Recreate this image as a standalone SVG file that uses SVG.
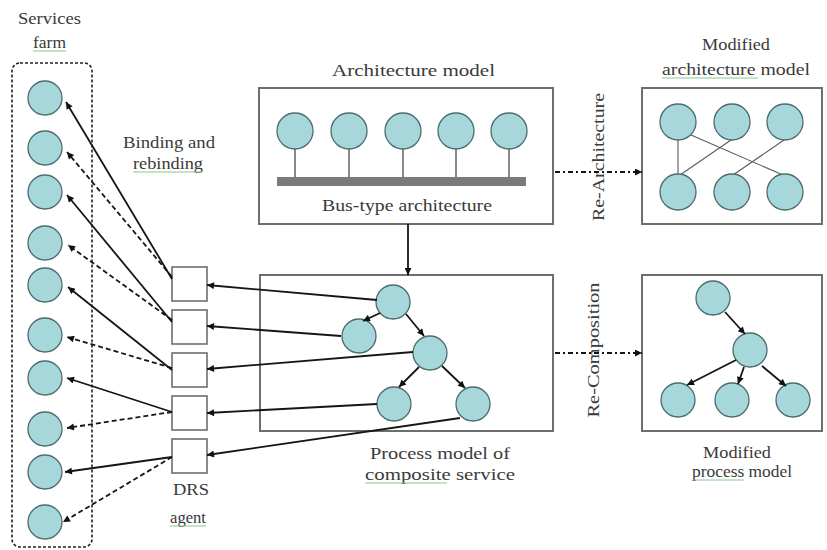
<svg xmlns="http://www.w3.org/2000/svg" width="827" height="550" viewBox="0 0 827 550">
  <style>
    .bg { fill: #ffffff; }
    .n { fill: #a6d7db; stroke: #4d6b6e; stroke-width: 1.3; }
    .box { fill: #ffffff; stroke: #6e6e6e; stroke-width: 2; }
    .agent { fill: #ffffff; stroke: #6e6e6e; stroke-width: 1.6; }
    .farm { fill: none; stroke: #222; stroke-width: 1.6; stroke-dasharray: 3 2; }
    .lbl { font-family: "Liberation Serif", "Times New Roman", serif; font-size: 17px; fill: #3a3a3a; }
    .solid { fill: none; stroke: #151515; stroke-width: 1.8; marker-end: url(#ah); }
    .dash { fill: none; stroke: #151515; stroke-width: 1.8; stroke-dasharray: 5 3; marker-end: url(#ah); }
    .dd { fill: none; stroke: #151515; stroke-width: 2; stroke-dasharray: 5 3 2 3; marker-end: url(#ah); }
    .link { fill: none; stroke: #5a5a5a; stroke-width: 1.1; }
    .stem { fill: none; stroke: #888; stroke-width: 2; }
    .spell { fill: none; stroke: #86c98a; stroke-width: 1; }
  </style>
  <defs>
    <marker id="ah" viewBox="0 0 10 10" refX="10" refY="5" markerWidth="9" markerHeight="7" markerUnits="userSpaceOnUse" orient="auto">
      <path d="M0,0 L10,5 L0,10 z" fill="#111"/>
    </marker>
  </defs>

  <rect class="bg" x="0" y="0" width="827" height="550"/>

  <!-- service pool -->
  <g id="services-farm">
    <rect class="farm" x="12" y="63" width="80" height="484" rx="8"/>
    <text class="lbl" x="18" y="24" textLength="63" lengthAdjust="spacingAndGlyphs">Services</text>
    <text class="lbl" x="33" y="48" textLength="33" lengthAdjust="spacingAndGlyphs">farm</text>
    <line class="spell" x1="33" y1="51" x2="66" y2="51"/>
  </g>
  <g id="service-1"><circle class="n" cx="45" cy="98" r="17"/></g>
  <g id="service-2"><circle class="n" cx="45" cy="148" r="17"/></g>
  <g id="service-3"><circle class="n" cx="45" cy="192" r="17"/></g>
  <g id="service-4"><circle class="n" cx="45" cy="243" r="17"/></g>
  <g id="service-5"><circle class="n" cx="45" cy="285" r="17"/></g>
  <g id="service-6"><circle class="n" cx="45" cy="335" r="17"/></g>
  <g id="service-7"><circle class="n" cx="45" cy="378" r="17"/></g>
  <g id="service-8"><circle class="n" cx="45" cy="429" r="17"/></g>
  <g id="service-9"><circle class="n" cx="45" cy="472" r="17"/></g>
  <g id="service-10"><circle class="n" cx="45" cy="522" r="17"/></g>

  <!-- binding label -->
  <g id="binding-label">
    <text class="lbl" x="123" y="148" textLength="92" lengthAdjust="spacingAndGlyphs">Binding and</text>
    <text class="lbl" x="133" y="169" textLength="70" lengthAdjust="spacingAndGlyphs">rebinding</text>
    <line class="spell" x1="133" y1="172" x2="203" y2="172"/>
  </g>

  <!-- DRS agent slots -->
  <g id="drs-agent">
    <rect class="agent" x="172" y="267" width="35" height="34"/>
    <rect class="agent" x="172" y="310" width="35" height="34"/>
    <rect class="agent" x="172" y="353" width="35" height="34"/>
    <rect class="agent" x="172" y="396" width="35" height="34"/>
    <rect class="agent" x="172" y="439" width="35" height="34"/>
    <text class="lbl" x="173" y="495" textLength="36" lengthAdjust="spacingAndGlyphs">DRS</text>
    <text class="lbl" x="170" y="523" textLength="36" lengthAdjust="spacingAndGlyphs">agent</text>
    <line class="spell" x1="170" y1="526" x2="206" y2="526"/>
  </g>

  <!-- architecture model -->
  <g id="architecture-model">
    <rect class="box" x="259" y="88" width="294" height="136"/>
    <text class="lbl" x="332" y="76" textLength="163" lengthAdjust="spacingAndGlyphs">Architecture model</text>
    <rect x="277" y="177" width="249" height="9" fill="#7a7a7a"/>
    <line class="stem" x1="295" y1="149" x2="295" y2="177"/>
    <line class="stem" x1="349" y1="149" x2="349" y2="177"/>
    <line class="stem" x1="403" y1="149" x2="403" y2="177"/>
    <line class="stem" x1="456" y1="149" x2="456" y2="177"/>
    <line class="stem" x1="509" y1="149" x2="509" y2="177"/>
    <circle class="n" cx="295" cy="131" r="18"/>
    <circle class="n" cx="349" cy="131" r="18"/>
    <circle class="n" cx="403" cy="131" r="18"/>
    <circle class="n" cx="456" cy="131" r="18"/>
    <circle class="n" cx="509" cy="131" r="18"/>
    <text class="lbl" x="322" y="211" textLength="170" lengthAdjust="spacingAndGlyphs">Bus-type architecture</text>
  </g>

  <!-- modified architecture model -->
  <g id="modified-architecture">
    <rect class="box" x="642" y="88" width="180" height="136"/>
    <text class="lbl" x="702" y="50" textLength="68" lengthAdjust="spacingAndGlyphs">Modified</text>
    <text class="lbl" x="662" y="75" textLength="148" lengthAdjust="spacingAndGlyphs">architecture model</text>
    <line class="spell" x1="662" y1="78" x2="758" y2="78"/>
    <line class="link" x1="678" y1="140" x2="678" y2="174"/>
    <line class="link" x1="691" y1="135" x2="783" y2="175"/>
    <line class="link" x1="731" y1="140" x2="680" y2="175"/>
    <line class="link" x1="784" y1="140" x2="733" y2="175"/>
    <circle class="n" cx="678" cy="122" r="18"/>
    <circle class="n" cx="732" cy="122" r="18"/>
    <circle class="n" cx="785" cy="122" r="18"/>
    <circle class="n" cx="678" cy="192" r="18"/>
    <circle class="n" cx="732" cy="192" r="18"/>
    <circle class="n" cx="785" cy="192" r="18"/>
  </g>

  <!-- process model of composite service -->
  <g id="process-model">
    <rect class="box" x="260" y="275" width="293" height="156"/>
    <text class="lbl" x="370" y="459" textLength="140" lengthAdjust="spacingAndGlyphs">Process model of</text>
    <text class="lbl" x="365" y="480" textLength="150" lengthAdjust="spacingAndGlyphs">composite service</text>
    <line class="spell" x1="365" y1="483" x2="447" y2="483"/>
    <circle class="n" cx="393" cy="302" r="17"/>
    <circle class="n" cx="359" cy="336" r="17"/>
    <circle class="n" cx="430" cy="353" r="17"/>
    <circle class="n" cx="394" cy="404" r="17"/>
    <circle class="n" cx="473" cy="404" r="17"/>
  </g>

  <!-- modified process model -->
  <g id="modified-process">
    <rect class="box" x="642" y="275" width="180" height="156"/>
    <text class="lbl" x="703" y="458" textLength="68" lengthAdjust="spacingAndGlyphs">Modified</text>
    <text class="lbl" x="692" y="477" textLength="100" lengthAdjust="spacingAndGlyphs">process model</text>
    <line class="spell" x1="692" y1="480" x2="744" y2="480"/>
    <circle class="n" cx="713" cy="298" r="17"/>
    <circle class="n" cx="750" cy="350" r="17"/>
    <circle class="n" cx="678" cy="400" r="17"/>
    <circle class="n" cx="732" cy="400" r="17"/>
    <circle class="n" cx="793" cy="400" r="17"/>
  </g>

  <!-- transformation labels -->
  <g id="re-architecture">
    <text class="lbl" transform="translate(604,157) rotate(-90)" text-anchor="middle" textLength="128" lengthAdjust="spacingAndGlyphs">Re-Architecture</text>
  </g>
  <g id="re-composition">
    <text class="lbl" transform="translate(599,350) rotate(-90)" text-anchor="middle" textLength="135" lengthAdjust="spacingAndGlyphs">Re-Composition</text>
  </g>

  <g id="connectors">
    <!-- agent slots to services -->
    <line class="solid" x1="172" y1="279" x2="66" y2="102"/>
    <line class="dash" x1="172" y1="277" x2="67" y2="152"/>
    <line class="solid" x1="172" y1="322" x2="67" y2="195"/>
    <line class="dash" x1="172" y1="320" x2="68" y2="245"/>
    <line class="solid" x1="172" y1="370" x2="68" y2="287"/>
    <line class="dash" x1="172" y1="368" x2="67" y2="337"/>
    <line class="solid" x1="172" y1="412" x2="67" y2="378"/>
    <line class="dash" x1="172" y1="412" x2="67" y2="428"/>
    <line class="solid" x1="172" y1="457" x2="65" y2="472"/>
    <line class="dash" x1="172" y1="457" x2="63" y2="522"/>

    <!-- process activities to agent slots -->
    <line class="solid" x1="377" y1="300" x2="207" y2="285"/>
    <line class="solid" x1="341" y1="336" x2="207" y2="326"/>
    <line class="solid" x1="413" y1="352" x2="207" y2="369"/>
    <line class="solid" x1="377" y1="404" x2="207" y2="413"/>
    <line class="solid" x1="460" y1="418" x2="207" y2="455"/>

    <!-- process tree -->
    <line class="solid" x1="380" y1="313" x2="363" y2="321"/>
    <line class="solid" x1="406" y1="314" x2="424" y2="336"/>
    <line class="solid" x1="419" y1="367" x2="399" y2="387"/>
    <line class="solid" x1="442" y1="366" x2="465" y2="388"/>

    <!-- modified process tree -->
    <line class="solid" x1="725" y1="312" x2="745" y2="334"/>
    <line class="solid" x1="736" y1="360" x2="687" y2="385"/>
    <line class="solid" x1="744" y1="367" x2="738" y2="384"/>
    <line class="solid" x1="762" y1="366" x2="786" y2="386"/>

    <!-- architecture to process -->
    <line class="solid" x1="408" y1="224" x2="408" y2="275"/>

    <!-- transformations -->
    <line class="dd" x1="555" y1="172" x2="642" y2="172"/>
    <line class="dd" x1="555" y1="353" x2="642" y2="353"/>
  </g>
</svg>
